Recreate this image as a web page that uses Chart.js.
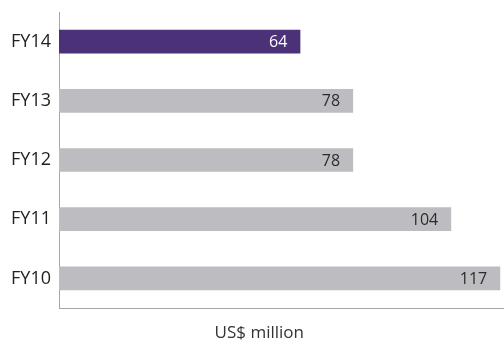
<!DOCTYPE html>
<html>
<head>
<meta charset="utf-8">
<script src="https://cdn.jsdelivr.net/npm/chart.js@4"></script>
<style>
  html, body { margin: 0; padding: 0; background: #fff; }
  #wrap { width: 504px; height: 345px; }
</style>
</head>
<body>
<div id="wrap"><canvas id="myChart"></canvas></div>
<script>
// data
const years = ['FY14', 'FY13', 'FY12', 'FY11', 'FY10'];
const amounts = [64, 78, 78, 104, 117];
const barColors = ['#4a3178', '#bdbdc1', '#bdbdc1', '#bdbdc1', '#bdbdc1'];
const labelColors = ['#ffffff', '#2b2b2b', '#2b2b2b', '#2b2b2b', '#2b2b2b'];
const unitLabel = 'US$ million';

// value labels inside the bar ends + unit caption under the axis
const valueLabels = {
  id: 'valueLabels',
  afterDatasetsDraw(chart) {
    const ctx = chart.ctx;
    const meta = chart.getDatasetMeta(0);
    const area = chart.chartArea;
    ctx.save();
    ctx.font = '16px "Open Sans"';
    ctx.textAlign = 'right';
    ctx.textBaseline = 'middle';
    meta.data.forEach((bar, i) => {
      ctx.fillStyle = labelColors[i];
      ctx.fillText(String(amounts[i]), bar.x - 13, bar.y + 1);
    });
    ctx.font = '17px "Open Sans"';
    ctx.textAlign = 'center';
    ctx.fillStyle = '#333';
    ctx.fillText(unitLabel, area.left + (area.right - area.left) * 0.45, area.bottom + 25);
    ctx.restore();
  }
};

const data = {
  labels: years,
  datasets: [{
    data: amounts,
    backgroundColor: barColors,
    borderWidth: 0,
    barPercentage: 0.4,
    categoryPercentage: 1
  }]
};

// config
const config = {
  type: 'bar',
  data,
  plugins: [valueLabels],
  options: {
    indexAxis: 'y',
    responsive: true,
    maintainAspectRatio: false,
    animation: false,
    layout: { padding: { top: 12, left: 7, right: 0, bottom: 37 } },
    scales: {
      x: {
        min: 0,
        max: 118,
        grid: { display: false, drawTicks: false },
        border: { display: true, color: '#a6a6a6', width: 1 },
        ticks: { display: false }
      },
      y: {
        afterFit(scale) {
          scale.width = 52;
          scale.paddingTop = 0;
          scale.paddingBottom = 0;
        },
        grid: { display: false, drawTicks: false },
        border: { display: true, color: '#a6a6a6', width: 1 },
        ticks: {
          color: '#222',
          padding: 8,
          font: { family: 'Open Sans', size: 18 }
        }
      }
    },
    plugins: {
      legend: { display: false },
      tooltip: { enabled: false }
    }
  }
};

// render init block
const myChart = new Chart(
  document.getElementById('myChart'),
  config
);
</script>
</body>
</html>
